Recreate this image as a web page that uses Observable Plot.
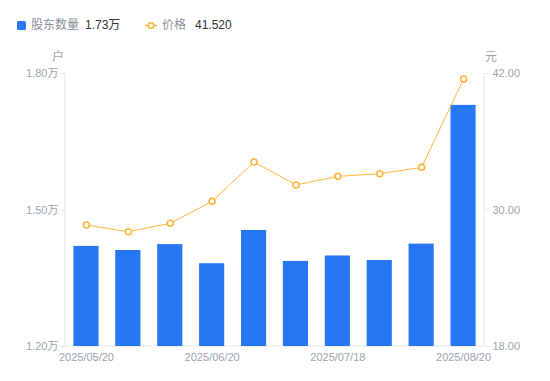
<!DOCTYPE html>
<html>
<head>
<meta charset="utf-8">
<script src="https://cdn.jsdelivr.net/npm/d3@7"></script>
<script src="https://cdn.jsdelivr.net/npm/@observablehq/plot@0.6"></script>
<style>
  body { margin: 0; background: #fff; font-family: "Liberation Sans", "Noto Sans CJK SC", sans-serif; }
  #legend { height: 48px; position: relative; font-size: 12px; }
  #legend span { position: absolute; top: 17px; line-height: 16px; white-space: nowrap; }
  .lab { color: #8a8f99; }
  .val { color: #333; margin-left: 6px; }
</style>
</head>
<body>
<div id="legend"></div>
<div id="chart"></div>
<script>
const dates = ["2025/05/20","2025/05/30","2025/06/10","2025/06/20","2025/06/30","2025/07/10","2025/07/18","2025/07/31","2025/08/10","2025/08/20"];
const holders = [1.42, 1.411, 1.424, 1.382, 1.455, 1.387, 1.399, 1.389, 1.425, 1.73]; // 万户
const prices = [28.68, 28.09, 28.83, 30.76, 34.22, 32.20, 32.96, 33.19, 33.75, 41.52]; // 元
const shownDates = ["2025/05/20","2025/06/20","2025/07/18","2025/08/20"];
const leftTicks = [1.2, 1.5, 1.8];
const priceDomain = [18, 42];
const holderDomain = [1.2, 1.8];

const barColor = "#2777f5";
const lineColor = "#ffb43a";
const tickColor = "#9ea3ad";
const axisColor = "#e3e5e9";

// map price onto holder scale
const toY = p => holderDomain[0] + (p - priceDomain[0]) / (priceDomain[1] - priceDomain[0]) * (holderDomain[1] - holderDomain[0]);
const fromY = y => priceDomain[0] + (y - holderDomain[0]) / (holderDomain[1] - holderDomain[0]) * (priceDomain[1] - priceDomain[0]);

const data = dates.map((d, i) => ({date: d, holders: holders[i], price: prices[i], py: toY(prices[i])}));

// legend
const lg = document.getElementById("legend");
lg.innerHTML = `
<span style="left:17px"><svg width="9" height="9" style="vertical-align:-0.5px"><rect width="9" height="9" rx="1.5" fill="${barColor}"/></svg><span class="lab" style="position:static;margin-left:5px">股东数量</span><span class="val" style="position:static">${holders[holders.length-1].toFixed(2)}万</span></span>
<span style="left:145px"><svg width="12" height="9" style="vertical-align:-0.5px"><line x1="0" x2="12" y1="4.5" y2="4.5" stroke="${lineColor}" stroke-width="1.5"/><circle cx="6" cy="4.5" r="2.8" fill="#fff" stroke="${lineColor}" stroke-width="1.6"/></svg><span class="lab" style="position:static;margin-left:5px">价格</span><span class="val" style="position:static;margin-left:9px">${prices[prices.length-1].toFixed(3)}</span></span>`;

const frameLines = (index, scales, values, dims) => {
  const g = d3.create("svg:g");
  const l = dims.marginLeft, r = dims.width - dims.marginRight;
  const t = dims.marginTop, b = dims.height - dims.marginBottom;
  g.append("line").attr("x1", l).attr("x2", l).attr("y1", t).attr("y2", b).attr("stroke", axisColor);
  g.append("line").attr("x1", r).attr("x2", r).attr("y1", t).attr("y2", b).attr("stroke", axisColor);
  g.append("line").attr("x1", l).attr("x2", r).attr("y1", b).attr("y2", b).attr("stroke", axisColor);
  g.append("text").attr("x", l - 7).attr("y", t - 12).attr("text-anchor", "middle").attr("fill", tickColor).attr("font-size", 12).text("户");
  g.append("text").attr("x", r + 1).attr("y", t - 12).attr("text-anchor", "start").attr("fill", tickColor).attr("font-size", 12).text("元");
  return g.node();
};

const chart = Plot.plot({
  width: 550,
  height: 333,
  marginTop: 25,
  marginBottom: 35,
  marginLeft: 65,
  marginRight: 66,
  style: {fontFamily: "Liberation Sans, Noto Sans CJK SC, sans-serif", fontSize: "11px", background: "#fff", overflow: "visible"},
  x: {type: "band", domain: dates, paddingInner: 0.4, paddingOuter: 0.2, round: false, axis: null},
  y: {domain: holderDomain, axis: null},
  marks: [
    frameLines,
    Plot.barY(data, {x: "date", y1: holderDomain[0], y2: "holders", fill: barColor}),
    Plot.axisY(leftTicks, {anchor: "left", tickSize: 5, tickPadding: 2, stroke: axisColor, color: tickColor, tickFormat: d => d.toFixed(2) + "万", label: null}),
    Plot.axisY(leftTicks, {anchor: "right", tickSize: 5, tickPadding: 3, stroke: axisColor, color: tickColor, tickFormat: d => fromY(d).toFixed(2), label: null}),
    Plot.axisX(shownDates, {anchor: "bottom", tickSize: 0, tickPadding: 7, color: tickColor, label: null}),
    Plot.line(data, {x: "date", y: "py", stroke: lineColor, strokeWidth: 1}),
    Plot.dot(data, {x: "date", y: "py", r: 3, fill: "#fff", stroke: lineColor, strokeWidth: 1.6})
  ]
});
document.getElementById("chart").appendChild(chart);
</script>
</body>
</html>
